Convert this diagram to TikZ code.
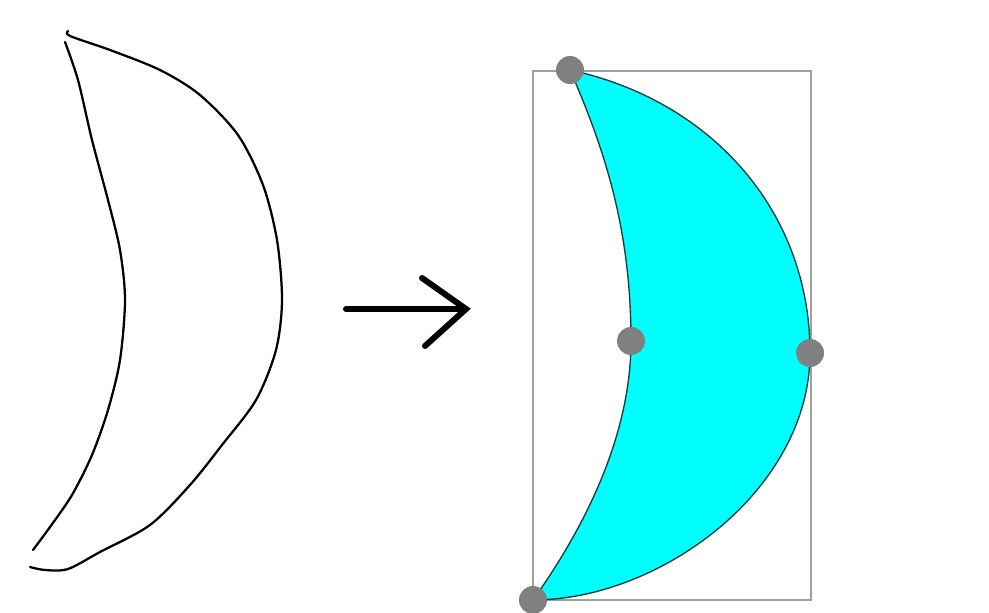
\documentclass[tikz,border=0pt]{standalone}
\definecolor{moonfill}{RGB}{0,255,255}
\definecolor{moonline}{RGB}{20,60,60}
\definecolor{handlegray}{RGB}{128,128,128}
\definecolor{boxgray}{RGB}{160,160,160}
\begin{document}
\begin{tikzpicture}[x=0.75pt,y=-0.75pt,
  sketch/.style={draw=black,line width=1.7pt,line cap=round,line join=round},
  handle/.style={circle,fill=handlegray,inner sep=0pt,minimum size=21pt},
  bbox/.style={draw=boxgray,line width=1.2pt},
  crescent/.style={fill=moonfill,draw=moonline,line width=1pt}]
\useasboundingbox (0,0) rectangle (989,613);
\fill[white] (0,0) rectangle (989,613);
% hand-drawn sketch
\draw[sketch] plot[smooth,tension=0.5] coordinates {(68,31) (70,36) (110,50) (160,70) (200,95) (238,135) (263,185) (277,240) (282,300) (276,350) (256,400) (222,445) (190,485) (150,525) (100,552) (68,569) (45,570) (30,567)};
\draw[sketch] plot[smooth,tension=0.5] coordinates {(65,42) (78,80) (92,140) (108,200) (120,250) (125,300) (120,360) (108,410) (92,455) (72,495) (50,527) (33,550)};
% arrow
\coordinate (a1) at (346,309);
\coordinate (a2) at (466,309);
\coordinate (h1) at (422,278);
\coordinate (h2) at (425,346);
\draw[line width=4.5pt,line cap=round,line join=miter] (a1) -- (a2);
\draw[line width=4.5pt,line cap=round,line join=miter] (h1) -- (a2) -- (h2);
% bounding rectangle
\draw[bbox] (533,71) rectangle (811,600);
% crescent
\coordinate (top) at (570,70);
\coordinate (rgt) at (810,353);
\coordinate (bot) at (533,600);
\coordinate (mid) at (631,341);
\path[crescent] (top) .. controls (710,100) and (810,210) .. (rgt)
  .. controls (810,490) and (660,600) .. (bot)
  .. controls (590,520) and (631,430) .. (mid)
  .. controls (631,230) and (605,150) .. cycle;
\node[handle] (ntop) at (top) {};
\node[handle] (nrgt) at (rgt) {};
\node[handle] (nbot) at (bot) {};
\node[handle] (nmid) at (mid) {};
\end{tikzpicture}
\end{document}
